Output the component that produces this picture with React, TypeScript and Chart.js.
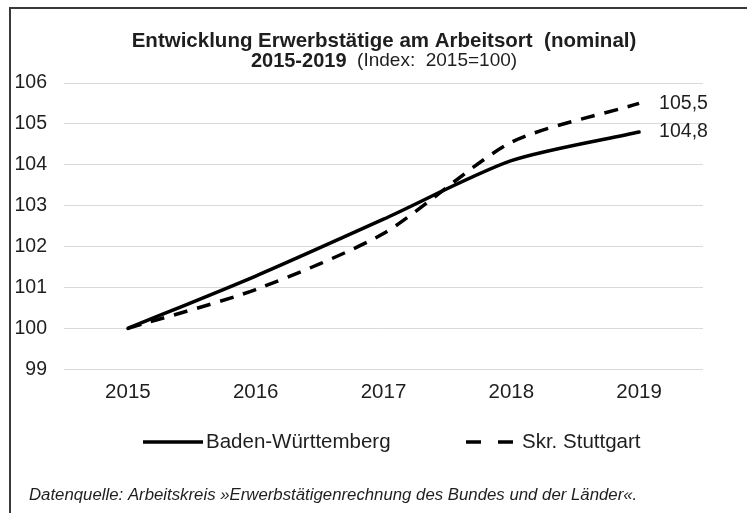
import React, { useEffect, useRef } from "react";
import { Chart, registerables } from "chart.js";

Chart.register(...registerables);

const categories = ["2015", "2016", "2017", "2018", "2019"];
const bwValues = [100, 101.28, 102.67, 104.1, 104.8];
const stuttgartValues = [100, 100.95, 102.32, 104.55, 105.5];
const seriesNames = ["Baden-Württemberg", "Skr. Stuttgart"];
const titleLine1 = "Entwicklung Erwerbstätige am Arbeitsort  (nominal)";
const titleLine2Bold = "2015-2019";
const titleLine2Normal = "  (Index:  2015=100)";
const sourceText = "Datenquelle: Arbeitskreis »Erwerbstätigenrechnung des Bundes und der Länder«.";
const yMin = 99;
const yMax = 106;

const FONT = "'Liberation Sans', Arial, sans-serif";
const TEXT = "#1e1e1e";

// legend layout (canvas coordinates)
const legendY = 433;
const legendItems = [
  { lineX1: 132, lineX2: 192, textX: 195, dash: [] as number[] },
  { lineX1: 455, lineX2: 503, textX: 511, dash: [15, 17] },
];

const textPlugin = {
  id: "textPlugin",
  afterDraw(chart: any) {
    const ctx = chart.ctx;
    ctx.save();
    ctx.fillStyle = TEXT;
    ctx.textBaseline = "middle";
    const cx = 373;
    ctx.textAlign = "center";
    ctx.font = `bold 20.5px ${FONT}`;
    ctx.fillText(titleLine1, cx, 32);
    ctx.font = `bold 20px ${FONT}`;
    const w1 = ctx.measureText(titleLine2Bold).width;
    ctx.font = `19px ${FONT}`;
    const w2 = ctx.measureText(titleLine2Normal).width;
    const start = cx - (w1 + w2) / 2;
    ctx.textAlign = "left";
    ctx.font = `bold 20px ${FONT}`;
    ctx.fillText(titleLine2Bold, start, 52);
    ctx.font = `19px ${FONT}`;
    ctx.fillText(titleLine2Normal, start + w1, 52);
    // legend
    chart.data.datasets.forEach((ds: any, i: number) => {
      const it = legendItems[i];
      ctx.save();
      ctx.strokeStyle = ds.borderColor;
      ctx.lineWidth = ds.borderWidth;
      ctx.setLineDash(it.dash);
      ctx.beginPath();
      ctx.moveTo(it.lineX1, legendY);
      ctx.lineTo(it.lineX2, legendY);
      ctx.stroke();
      ctx.restore();
      ctx.font = `20.5px ${FONT}`;
      ctx.fillText(ds.label, it.textX, legendY);
    });
    // source
    ctx.font = `italic 16.8px ${FONT}`;
    ctx.fillText(sourceText, 18, 486);
    ctx.restore();
  },
  afterDatasetsDraw(chart: any) {
    const ctx = chart.ctx;
    ctx.save();
    ctx.fillStyle = TEXT;
    ctx.textBaseline = "middle";
    ctx.textAlign = "left";
    ctx.font = `19.5px ${FONT}`;
    chart.data.datasets.forEach((ds: any, i: number) => {
      const meta = chart.getDatasetMeta(i);
      const last = meta.data.length - 1;
      const pt = meta.data[last];
      const v = ds.data[last];
      ctx.fillText(v.toFixed(1).replace(".", ","), pt.x + 20, pt.y);
    });
    ctx.restore();
  },
};

export default function App() {
  const ref = useRef<HTMLCanvasElement | null>(null);
  useEffect(() => {
    if (!ref.current) return;
    const chart = new Chart(ref.current, {
      type: "line",
      data: {
        labels: categories,
        datasets: [
          {
            label: seriesNames[0],
            data: bwValues,
            borderColor: "#000000",
            backgroundColor: "#000000",
            borderWidth: 3.5,
            pointRadius: 0,
            tension: 0.25,
            borderCapStyle: "round",
          },
          {
            label: seriesNames[1],
            data: stuttgartValues,
            borderColor: "#000000",
            backgroundColor: "#000000",
            borderWidth: 3.5,
            borderDash: [14, 10],
            pointRadius: 0,
            tension: 0.25,
          },
        ],
      },
      options: {
        animation: false,
        responsive: true,
        maintainAspectRatio: false,
        layout: { padding: { left: 0, right: 44, top: 74, bottom: 103.7 } },
        scales: {
          x: {
            offset: true,
            grid: { display: false, drawTicks: false },
            border: { display: false },
            ticks: { color: TEXT, font: { family: FONT, size: 20.5 }, padding: 11 },
            afterFit: (s: any) => { s.height = 40; },
          },
          y: {
            min: yMin,
            max: yMax,
            ticks: { stepSize: 1, color: TEXT, font: { family: FONT, size: 19.5 }, padding: 17 },
            grid: { color: "#d9d9d9", lineWidth: 1, drawTicks: false },
            border: { display: false },
            afterFit: (s: any) => { s.width = 53; },
          },
        },
        plugins: {
          title: { display: false },
          tooltip: { enabled: false },
          legend: { display: false },
        },
      },
      plugins: [textPlugin],
    });
    return () => chart.destroy();
  }, []);
  return (
    <div
      style={{
        position: "fixed",
        left: 9,
        top: 7,
        width: 736,
        height: 504,
        borderLeft: "2px solid #3a3a3a",
        borderTop: "2px solid #3a3a3a",
        background: "#fff",
      }}
    >
      <canvas ref={ref} />
    </div>
  );
}
